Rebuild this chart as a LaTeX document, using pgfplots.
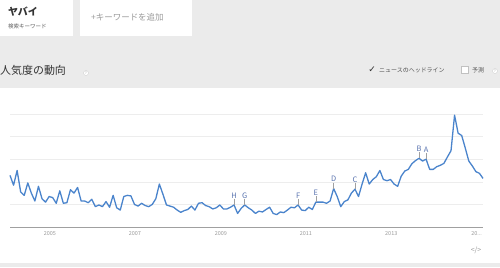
\documentclass[border=0pt]{standalone}
\usepackage{pgfplots}
\pgfplotsset{compat=1.18}
\usepackage{pgfplotstable}
\usepackage{fontspec}
\setmainfont{Noto Sans CJK JP}
\newfontfamily\dejavu{DejaVu Sans}
\definecolor{bggray}{HTML}{EBEBEB}
\definecolor{trendblue}{HTML}{4A84CC}
\definecolor{gridgray}{HTML}{EDEDED}
\definecolor{basegray}{HTML}{A0A0A0}
\definecolor{lettercol}{HTML}{5A74B0}
\definecolor{txtgray}{HTML}{9A9A9A}
\definecolor{darktxt}{HTML}{333333}

\pgfplotstableread{
i v
0 45.7
1 37
2 50
3 31
4 28
5 39
6 30
7 23
8 36
9 25
10 22
11 27
12 26
13 21
14 32
15 21
16 21.5
17 33
18 30
19 35
20 23
21 23
22 21.5
23 24.5
24 18
25 19.5
26 18
27 22.5
28 17.5
29 28
30 17
31 15
32 27
33 28
34 27.5
35 20
36 18.5
37 21
38 19
39 18
40 20
41 25
42 38
43 29
44 19.5
45 18.5
46 17.5
47 15
48 13
49 14.5
50 15.5
51 18.5
52 15
53 21
54 21.5
55 19
56 18
57 16
58 17
59 19.5
60 16
61 16
62 17.5
63 19.5
64 12
65 16.5
66 19.5
67 17
68 15
69 12
70 14
71 13.3
72 15.5
73 17.5
74 12
75 11
76 13.3
77 12.7
78 15
79 17.5
80 17
81 19.5
82 15
83 14.5
84 17.5
85 15.5
86 22
87 22
88 22
89 21
90 23
91 34
92 27
93 18
94 22.5
95 24
96 30
97 33.5
98 27
99 38
100 48
101 38
102 42
103 44.5
104 50
105 42
106 41
107 42
108 38
109 36
110 45
111 49.5
112 51
113 56
114 58.7
115 60.8
116 58.4
117 60
118 51
119 51
120 53.4
121 54.6
122 56.3
123 62
124 67.5
125 99
126 83
127 81
128 70
129 58.4
130 54
131 49
132 47.5
133 43
}\trend

\pgfplotstableread{
i v lab
63 19.5 H
66 19.5 G
81 19.5 F
86 22 E
91 34 D
97 33.5 C
115 60.8 B
117 60 A
}\events

\begin{document}
\begin{tikzpicture}[x=1bp,y=1bp]
% background
\fill[bggray] (0,0) rectangle (500,267);
% top boxes
\fill[white] (0,231) rectangle (73,267);
\fill[white] (80,231) rectangle (192,267);
\node[anchor=west,inner sep=0pt,text=darktxt] at (8,255) {\fontsize{10}{12}\selectfont\bfseries ヤバイ};
\node[anchor=west,inner sep=0pt,text=darktxt!80] at (8,241) {\fontsize{5.5}{6}\selectfont 検索キーワード};
\node[anchor=west,inner sep=0pt,text=txtgray] at (91,250) {\fontsize{8.5}{10}\selectfont +キーワードを追加};
% title
\node[anchor=west,inner sep=0pt,text=darktxt] at (0,197) {\fontsize{11}{13}\selectfont 人気度の動向};
\filldraw[fill=white,draw=gridgray!70!gray,line width=0.3] (86,194) circle (2.5);
\node[inner sep=0pt,text=txtgray] at (86,194) {\fontsize{3.5}{4}\selectfont ?};
% right controls
\node[inner sep=0pt,text=darktxt] at (372,197.5) {\dejavu\fontsize{9}{10}\selectfont ✓};
\node[anchor=west,inner sep=0pt,text=darktxt!85] at (379,197) {\fontsize{6}{7}\selectfont ニュースのヘッドライン};
\fill[white] (461,193.5) rectangle (468.5,201);
\draw[gridgray!60!gray,line width=0.3] (461,193.5) rectangle (468.5,201);
\node[anchor=west,inner sep=0pt,text=darktxt!85] at (472,197) {\fontsize{6}{7}\selectfont 予測};
\filldraw[fill=white,draw=gridgray!70!gray,line width=0.3] (495,196) circle (2.5);
\node[inner sep=0pt,text=txtgray] at (495,196) {\fontsize{3.5}{4}\selectfont ?};
% chart panel
\fill[white] (0,4) rectangle (500,179);
\node[inner sep=0pt,text=txtgray] at (476,17) {\fontsize{7}{8}\selectfont </>};
\begin{axis}[
  at={(10bp,40bp)}, anchor=origin,
  scale only axis, width=473bp, height=113bp,
  xmin=0, xmax=133, ymin=0, ymax=100,
  axis line style={draw=none},
  axis x line*=bottom,
  ytick={20,40,60,80,100}, yticklabels={},
  ymajorgrids, grid style={gridgray, line width=0.6pt},
  major tick length=0pt,
  xtick={11.2,35.1,59.3,83.2,107.2,131.2},
  xticklabels={2005,2007,2009,2011,2013,{20.{}.{}.}},
  x tick label style={font=\fontsize{5.5}{6}\selectfont, text=txtgray, yshift=-0.5bp},
  clip=false,
]
\draw[basegray, line width=0.6pt] (axis cs:0,0) -- (axis cs:133,0);
\addplot[trendblue, line width=1.3pt, line join=round] table[x=i,y=v] {\trend};
\addplot[only marks, mark=|, mark size=3bp, color=basegray,
  mark options={yshift=3bp, line width=0.5pt},
  nodes near coords, point meta=explicit symbolic,
  every node near coord/.append style={font=\fontsize{7.5}{8}\selectfont, text=lettercol, anchor=south, yshift=3bp, inner sep=0.5pt}]
  table[x=i,y=v,meta=lab] {\events};
\end{axis}
\end{tikzpicture}
\end{document}
